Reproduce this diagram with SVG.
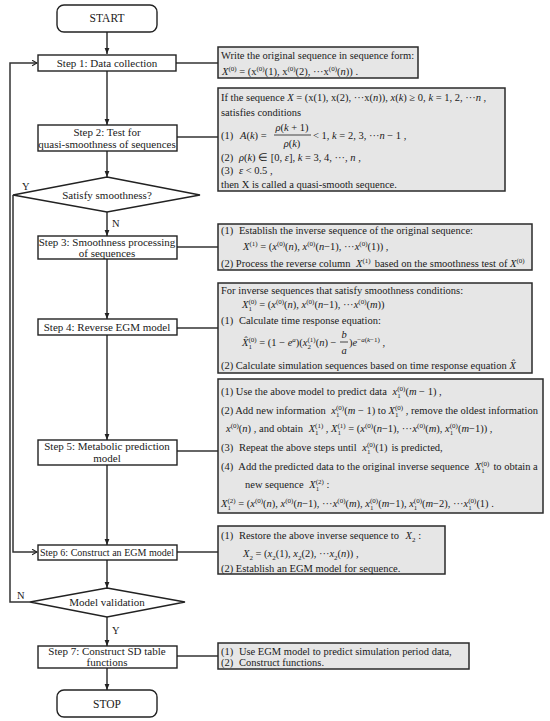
<svg xmlns="http://www.w3.org/2000/svg" width="550" height="721" viewBox="0 0 550 721">
<defs>
<style>
.t{font-family:"Liberation Serif","Times New Roman",serif;font-size:10.5px;fill:#1a1a1a}
.st{font-size:11px}
.c{text-anchor:middle}
.i{font-style:italic}
.s{font-size:7px}
.step{fill:#fff;stroke:#222;stroke-width:1.4}
.box{fill:#e6e6e6;stroke:#2a2a2a;stroke-width:1.5}
.ln{fill:none;stroke:#333;stroke-width:1.5}
.bar{stroke:#1a1a1a;stroke-width:0.8}
</style>
<marker id="a" viewBox="0 0 10 10" refX="10" refY="5" markerWidth="6" markerHeight="6" orient="auto" markerUnits="userSpaceOnUse"><path d="M0,1 L10,5 L0,9 z" fill="#222"/></marker>
<marker id="o" viewBox="0 0 10 10" refX="9" refY="5" markerWidth="7" markerHeight="7" orient="auto" markerUnits="userSpaceOnUse"><path d="M2,1 L9,5 L2,9" fill="none" stroke="#222" stroke-width="1.5"/></marker>
</defs>
<rect width="550" height="721" fill="#fff"/>

<g id="connectors">
<path class="ln" d="M107,32 V54" marker-end="url(#a)"/>
<path class="ln" d="M107,71 V125" marker-end="url(#a)"/>
<path class="ln" d="M107,151 V177" marker-end="url(#a)"/>
<path class="ln" d="M107,212 V236" marker-end="url(#a)"/>
<path class="ln" d="M107,259 V319" marker-end="url(#a)"/>
<path class="ln" d="M107,335 V440" marker-end="url(#a)"/>
<path class="ln" d="M107,465 V545" marker-end="url(#a)"/>
<path class="ln" d="M107,560 V588" marker-end="url(#a)"/>
<path class="ln" d="M107,617 V646" marker-end="url(#a)"/>
<path class="ln" d="M107,668 V690" marker-end="url(#a)"/>
<path class="ln" d="M13,195 V552 H37" marker-end="url(#o)"/>
<path class="ln" d="M30,602 H10 V63 H37" marker-end="url(#o)"/>
<path class="ln" d="M176,63 H218"/>
<path class="ln" d="M177,137 H218"/>
<path class="ln" d="M177,247 H218"/>
<path class="ln" d="M177,328 H218"/>
<path class="ln" d="M177,451 H218"/>
<path class="ln" d="M177,552 H218"/>
<path class="ln" d="M177,656 H218"/>
<text class="t" x="22" y="190">Y</text>
<text class="t" x="112" y="227">N</text>
<text class="t" x="17" y="599">N</text>
<text class="t" x="112" y="634">Y</text>
</g>

<g id="start"><rect class="step" x="57" y="5" width="100" height="27" rx="7"/><text class="t c" x="107" y="22" style="font-size:11.5px">START</text></g>
<g id="step1"><rect class="step" x="38" y="55" width="138" height="16"/><text class="t st c" x="107" y="66.5">Step 1: Data collection</text></g>
<g id="step2"><rect class="step" x="38" y="125" width="139" height="26"/><text class="t st c" x="107" y="135.5">Step 2: Test for</text><text class="t st c" x="107" y="148">quasi-smoothness of sequences</text></g>
<g id="d1"><path class="step" d="M107,177 L200,195 L107,212 L13,195 Z"/><text class="t st c" x="107" y="199">Satisfy smoothness?</text></g>
<g id="step3"><rect class="step" x="38" y="236" width="139" height="23"/><text class="t st c" x="107" y="245.5">Step 3: Smoothness processing</text><text class="t st c" x="107" y="257">of sequences</text></g>
<g id="step4"><rect class="step" x="38" y="319" width="139" height="16"/><text class="t st c" x="107" y="330.5">Step 4: Reverse EGM model</text></g>
<g id="step5"><rect class="step" x="38" y="440" width="139" height="25"/><text class="t st c" x="107" y="450">Step 5: Metabolic prediction</text><text class="t st c" x="107" y="462">model</text></g>
<g id="step6"><rect class="step" x="38" y="545" width="139" height="15"/><text class="t st c" x="107" y="556" textLength="134" lengthAdjust="spacingAndGlyphs">Step 6: Construct an EGM model</text></g>
<g id="d2"><path class="step" d="M107,588 L185,602 L107,617 L30,602 Z"/><text class="t st c" x="107" y="606">Model validation</text></g>
<g id="step7"><rect class="step" x="38" y="646" width="139" height="22"/><text class="t st c" x="107" y="654.5">Step 7: Construct SD table</text><text class="t st c" x="107" y="666">functions</text></g>
<g id="stop"><rect class="step" x="57" y="690" width="100" height="27" rx="7"/><text class="t c" x="107" y="707.5" style="font-size:11.5px">STOP</text></g>

<g id="box1"><rect class="box" x="218" y="47" width="200" height="31"/>
<text class="t" x="221" y="59">Write the original sequence in sequence form:</text>
<text class="t" x="222" y="75"><tspan class="i">X</tspan><tspan class="s" dy="-4">(0)</tspan><tspan dy="4"> = (x</tspan><tspan class="s" dy="-4">(0)</tspan><tspan dy="4">(1), x</tspan><tspan class="s" dy="-4">(0)</tspan><tspan dy="4">(2), ···x</tspan><tspan class="s" dy="-4">(0)</tspan><tspan dy="4">(</tspan><tspan class="i">n</tspan>)) .</text>
</g>

<g id="box2"><rect class="box" x="218" y="88" width="287" height="103"/>
<text class="t" x="221" y="101">If the sequence <tspan class="i">X</tspan> = (x(1), x(2), ···x(<tspan class="i">n</tspan>)), <tspan class="i">x</tspan>(<tspan class="i">k</tspan>) ≥ 0, <tspan class="i">k</tspan> = 1, 2, ···<tspan class="i">n</tspan> ,</text>
<text class="t" x="221" y="116">satisfies conditions</text>
<text class="t" x="221" y="138.5">(1)</text>
<text class="t" x="240" y="138.5"><tspan class="i">A</tspan>(<tspan class="i">k</tspan>) =</text>
<text class="t c" x="292" y="130.5"><tspan class="i">ρ</tspan>(<tspan class="i">k</tspan> + 1)</text>
<line class="bar" x1="274" y1="135" x2="311" y2="135"/>
<text class="t c" x="292" y="147"><tspan class="i">ρ</tspan>(<tspan class="i">k</tspan>)</text>
<text class="t" x="313" y="138.5">&lt; 1, <tspan class="i">k</tspan> = 2, 3, ···<tspan class="i">n</tspan> − 1 ,</text>
<text class="t" x="221" y="160.5">(2) <tspan dx="3" class="i">ρ</tspan>(<tspan class="i">k</tspan>) ∈ [0, <tspan class="i">ε</tspan>], <tspan class="i">k</tspan> = 3, 4, ···, <tspan class="i">n</tspan> ,</text>
<text class="t" x="221" y="173.5">(3) <tspan dx="3" class="i">ε</tspan> &lt; 0.5 ,</text>
<text class="t" x="221" y="187.5">then X is called a quasi-smooth sequence.</text>
</g>

<g id="box3"><rect class="box" x="218" y="224" width="314" height="46"/>
<text class="t" x="221" y="234">(1) <tspan dx="3">Establish the inverse sequence of the original sequence:</tspan></text>
<text class="t" x="243" y="250"><tspan class="i">X</tspan><tspan class="s" dy="-4">(1)</tspan><tspan dy="4"> = (</tspan><tspan class="i">x</tspan><tspan class="s" dy="-4">(0)</tspan><tspan dy="4">(</tspan><tspan class="i">n</tspan>), <tspan class="i">x</tspan><tspan class="s" dy="-4">(0)</tspan><tspan dy="4">(</tspan><tspan class="i">n</tspan>−1), ···<tspan class="i">x</tspan><tspan class="s" dy="-4">(0)</tspan><tspan dy="4">(1)) ,</tspan></text>
<text class="t" x="221" y="267">(2) Process the reverse column <tspan dx="3" class="i">X</tspan><tspan class="s" dy="-4">(1)</tspan><tspan dy="4" dx="4">based on the smoothness test of </tspan><tspan class="i">X</tspan><tspan class="s" dy="-4">(0)</tspan></text>
</g>

<g id="box4"><rect class="box" x="218" y="283" width="314" height="90"/>
<text class="t" x="221" y="294">For inverse sequences that satisfy smoothness conditions:</text>
<text class="t" x="242" y="308"><tspan class="i">X</tspan><tspan class="s" dy="3">1</tspan><tspan class="s" dx="-3.5" dy="-7">(0)</tspan><tspan dy="4"> = (</tspan><tspan class="i">x</tspan><tspan class="s" dy="-4">(0)</tspan><tspan dy="4">(</tspan><tspan class="i">n</tspan>), <tspan class="i">x</tspan><tspan class="s" dy="-4">(0)</tspan><tspan dy="4">(</tspan><tspan class="i">n</tspan>−1), ···<tspan class="i">x</tspan><tspan class="s" dy="-4">(0)</tspan><tspan dy="4">(</tspan><tspan class="i">m</tspan>))</text>
<text class="t" x="221" y="324">(1) <tspan dx="3">Calculate time response equation:</tspan></text>
<text class="t" x="242" y="345.5"><tspan class="i">X̂</tspan><tspan class="s" dy="3">1</tspan><tspan class="s" dx="-3.5" dy="-7">(0)</tspan><tspan dy="4"> = (1 − </tspan><tspan class="i">e</tspan><tspan class="s i" dy="-4">a</tspan><tspan dy="4">)(</tspan><tspan class="i">x</tspan><tspan class="s" dy="3">2</tspan><tspan class="s" dx="-3.5" dy="-7">(1)</tspan><tspan dy="4">(</tspan><tspan class="i">n</tspan>) −</text>
<text class="t c i" x="344" y="337.5">b</text>
<line class="bar" x1="340" y1="342" x2="348" y2="342"/>
<text class="t c i" x="344" y="354">a</text>
<text class="t" x="349" y="345.5">)<tspan class="i">e</tspan><tspan class="s" dy="-4">−<tspan class="i">a</tspan>(<tspan class="i">k</tspan>−1)</tspan><tspan dy="4"> ,</tspan></text>
<text class="t" x="221" y="368.5">(2) Calculate simulation sequences based on time response equation <tspan class="i">X̂</tspan></text>
</g>

<g id="box5"><rect class="box" x="218" y="379" width="325" height="134"/>
<text class="t" x="221" y="395">(1) Use the above model to predict data <tspan dx="3" class="i">x</tspan><tspan class="s" dy="3">1</tspan><tspan class="s" dx="-3.5" dy="-7">(0)</tspan><tspan dy="4">(</tspan><tspan class="i">m</tspan> − 1) ,</text>
<text class="t" x="221" y="413.5">(2) Add new information <tspan dx="3" class="i">x</tspan><tspan class="s" dy="3">1</tspan><tspan class="s" dx="-3.5" dy="-7">(0)</tspan><tspan dy="4">(</tspan><tspan class="i">m</tspan> − 1) to <tspan class="i">X</tspan><tspan class="s" dy="3">1</tspan><tspan class="s" dx="-3.5" dy="-7">(0)</tspan><tspan dy="4"> , remove the oldest information</tspan></text>
<text class="t" x="226" y="432"><tspan class="i">x</tspan><tspan class="s" dy="-4">(0)</tspan><tspan dy="4">(</tspan><tspan class="i">n</tspan>) , and obtain <tspan dx="3" class="i">X</tspan><tspan class="s" dy="3">1</tspan><tspan class="s" dx="-3.5" dy="-7">(1)</tspan><tspan dy="4"> , </tspan><tspan class="i">X</tspan><tspan class="s" dy="3">1</tspan><tspan class="s" dx="-3.5" dy="-7">(1)</tspan><tspan dy="4"> = (</tspan><tspan class="i">x</tspan><tspan class="s" dy="-4">(0)</tspan><tspan dy="4">(</tspan><tspan class="i">n</tspan>−1), ···<tspan class="i">x</tspan><tspan class="s" dy="-4">(0)</tspan><tspan dy="4">(</tspan><tspan class="i">m</tspan>), <tspan class="i">x</tspan><tspan class="s" dy="3">1</tspan><tspan class="s" dx="-3.5" dy="-7">(0)</tspan><tspan dy="4">(</tspan><tspan class="i">m</tspan>−1)) ,</text>
<text class="t" x="221" y="451">(3) <tspan dx="3">Repeat the above steps until </tspan><tspan dx="3" class="i">x</tspan><tspan class="s" dy="3">1</tspan><tspan class="s" dx="-3.5" dy="-7">(0)</tspan><tspan dy="4">(1)</tspan><tspan dx="4">is predicted,</tspan></text>
<text class="t" x="221" y="469.5">(4) <tspan dx="3">Add the predicted data to the original inverse sequence </tspan><tspan dx="3" class="i">X</tspan><tspan class="s" dy="3">1</tspan><tspan class="s" dx="-3.5" dy="-7">(0)</tspan><tspan dy="4" dx="4">to obtain a</tspan></text>
<text class="t" x="245" y="488">new sequence <tspan dx="3" class="i">X</tspan><tspan class="s" dy="3">1</tspan><tspan class="s" dx="-3.5" dy="-7">(2)</tspan><tspan dy="4"> :</tspan></text>
<text class="t" x="221" y="506.5"><tspan class="i">X</tspan><tspan class="s" dy="3">1</tspan><tspan class="s" dx="-3.5" dy="-7">(2)</tspan><tspan dy="4"> = (</tspan><tspan class="i">x</tspan><tspan class="s" dy="-4">(0)</tspan><tspan dy="4">(</tspan><tspan class="i">n</tspan>), <tspan class="i">x</tspan><tspan class="s" dy="-4">(0)</tspan><tspan dy="4">(</tspan><tspan class="i">n</tspan>−1), ···<tspan class="i">x</tspan><tspan class="s" dy="-4">(0)</tspan><tspan dy="4">(</tspan><tspan class="i">m</tspan>), <tspan class="i">x</tspan><tspan class="s" dy="3">1</tspan><tspan class="s" dx="-3.5" dy="-7">(0)</tspan><tspan dy="4">(</tspan><tspan class="i">m</tspan>−1), <tspan class="i">x</tspan><tspan class="s" dy="3">1</tspan><tspan class="s" dx="-3.5" dy="-7">(0)</tspan><tspan dy="4">(</tspan><tspan class="i">m</tspan>−2), ···<tspan class="i">x</tspan><tspan class="s" dy="3">1</tspan><tspan class="s" dx="-3.5" dy="-7">(0)</tspan><tspan dy="4">(1) .</tspan></text>
</g>

<g id="box6"><rect class="box" x="218" y="526" width="227" height="48"/>
<text class="t" x="221" y="539">(1) <tspan dx="3">Restore the above inverse sequence to </tspan><tspan dx="4" class="i">X</tspan><tspan class="s" dy="3">2</tspan><tspan dy="-3"> :</tspan></text>
<text class="t" x="243" y="557"><tspan class="i">X</tspan><tspan class="s" dy="3">2</tspan><tspan dy="-3"> = (</tspan><tspan class="i">x</tspan><tspan class="s" dy="3">2</tspan><tspan dy="-3">(1), </tspan><tspan class="i">x</tspan><tspan class="s" dy="3">2</tspan><tspan dy="-3">(2), ···</tspan><tspan class="i">x</tspan><tspan class="s" dy="3">2</tspan><tspan dy="-3">(</tspan><tspan class="i">n</tspan>)) ,</text>
<text class="t" x="221" y="572">(2) Establish an EGM model for sequence.</text>
</g>

<g id="box7"><rect class="box" x="218" y="643" width="251" height="26"/>
<text class="t" x="221" y="654.5">(1) <tspan dx="3">Use EGM model to predict simulation period data,</tspan></text>
<text class="t" x="221" y="666">(2) <tspan dx="3">Construct functions.</tspan></text>
</g>
</svg>
